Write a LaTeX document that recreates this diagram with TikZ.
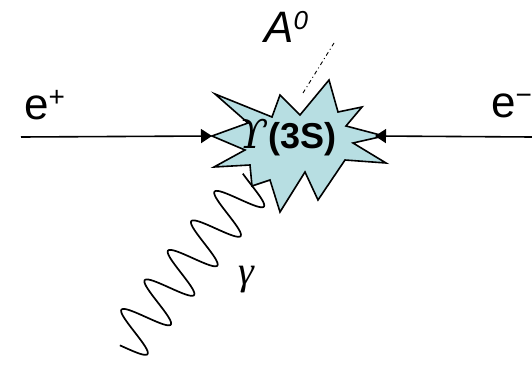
\documentclass[tikz,border=0pt]{standalone}
\usepackage{fontspec}
\setmainfont{Liberation Sans}
\newfontfamily\grk{DejaVu Serif}
\newfontfamily\grt{Liberation Serif}
\usetikzlibrary{arrows.meta}
\definecolor{starfill}{RGB}{183,222,226}
\begin{document}
\begin{tikzpicture}[x=1pt,y=-1pt,
  big/.style={font=\fontsize{44}{44}\selectfont, inner sep=0pt},
  arr/.style={line width=1.6pt, -{Triangle[length=11pt,width=14pt]}},
  wave/.style={line width=1.7pt},
  decay/.style={line width=0.9pt, dash pattern=on 4pt off 3pt on 1pt off 3pt}]
\useasboundingbox (0,0) rectangle (532,366);
% star
\draw[fill=starfill, line width=1.6pt, line join=miter]
  (212,136) -- (248,123) -- (215,94) -- (272,117) -- (280,95) -- (300,115)
  -- (329,80) -- (338,112) -- (362,107) -- (346,126) -- (384,136) -- (353,143)
  -- (386,163) -- (345,160) -- (318,200) -- (305,172) -- (280,212) -- (270,180)
  -- (252,186) -- (250,165) -- (214,167) -- (245,150) -- cycle;
\coordinate (starL) at (212,136);
\coordinate (starR) at (375,136);
\coordinate (ein) at (21,137);
\coordinate (eout) at (532,137);
\coordinate (aend) at (334,43);
\coordinate (astart) at (303,93);
\node[big, anchor=base] (ups) at (288,149) {{\fontsize{40}{40}\selectfont\grk\itshape ϒ}\fontsize{36}{36}\selectfont\textbf{(3S)}};
\draw[arr] (ein) -- (starL);
\draw[arr] (eout) -- (starR);
\draw[decay] (astart) -- (aend);
\draw[wave] plot[smooth, domain=-14:197, samples=220, variable=\s]
  ({\s*(-0.619) + (311.2 - 24*cos(9.5745*(\s-17.6)))*0.785},
   {\s*0.785 + (311.2 - 24*cos(9.5745*(\s-17.6)))*0.619});
\node[big, anchor=base west] (ep) at (24,120) {e\raisebox{13pt}{\fontsize{28}{28}\selectfont +}};
\node[big, anchor=base west] (em) at (491,118) {e\raisebox{13pt}{\fontsize{28}{28}\selectfont −}};
\node[big, anchor=base west] (a0) at (264,43) {\itshape A\raisebox{13pt}{\fontsize{26}{26}\selectfont 0}};
\node[inner sep=0pt] (gam) at (246,280) {\fontsize{40}{40}\selectfont\grt\itshape γ};
\end{tikzpicture}
\end{document}
